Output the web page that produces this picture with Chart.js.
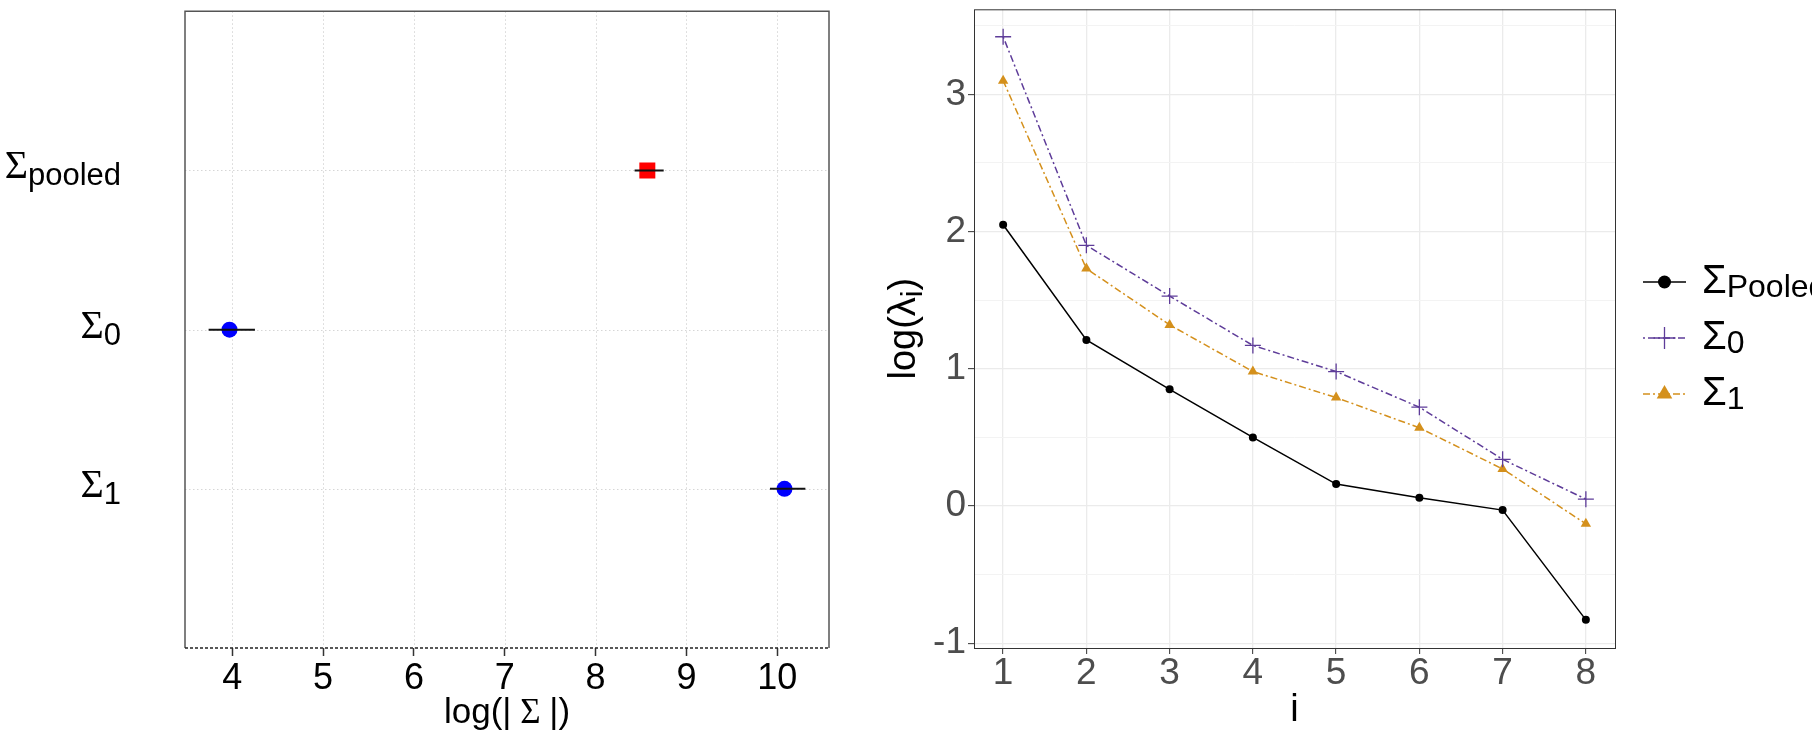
<!DOCTYPE html>
<html>
<head>
<meta charset="utf-8">
<script src="https://cdn.jsdelivr.net/npm/chart.js@4.4.0/dist/chart.umd.min.js"></script>
<style>
  body { margin: 0; background: #fff; }
  #wrap { position: relative; width: 1812px; height: 734px; overflow: hidden; }
  canvas { position: absolute; top: 0; }
</style>
</head>
<body>
<div id="wrap">
  <canvas id="detChart" width="906" height="734" style="left:0"></canvas>
  <canvas id="eigChart" width="952" height="734" style="left:860px"></canvas>
</div>
<script>
// left panel: log(|Sigma|) with intervals
const detSubs = ['pooled', '0', '1'];
const detRows = [3, 2, 1];
const detEst = [8.57, 3.97, 10.08];
const detLow = [8.43, 3.74, 9.92];
const detHigh = [8.75, 4.25, 10.31];
const detShape = ['rect', 'circle', 'circle'];
const detColor = ['#FF0000', '#0000FF', '#0000FF'];
const detXTicks = [4, 5, 6, 7, 8, 9, 10];

// right panel: log eigenvalues
const eigIndex = [1, 2, 3, 4, 5, 6, 7, 8];
const eigPooled = [2.05, 1.21, 0.85, 0.50, 0.16, 0.06, -0.03, -0.83];
const eigSigma0 = [3.42, 1.90, 1.53, 1.17, 0.98, 0.72, 0.34, 0.05];
const eigSigma1 = [3.10, 1.73, 1.32, 0.98, 0.79, 0.57, 0.27, -0.13];
const eigSubs = ['Pooled', '0', '1'];
const eigYTicks = [-1, -0.5, 0, 0.5, 1, 1.5, 2, 2.5, 3, 3.5];

const SANS = "'Liberation Sans', Arial, sans-serif";
const SERIF = "'Liberation Serif', 'Times New Roman', serif";

// draws main text followed by a lowered subscript
function subText(ctx, x, y, main, sub, mainFont, subFont, drop, align) {
  ctx.font = mainFont;
  const w1 = ctx.measureText(main).width;
  ctx.font = subFont;
  const w2 = ctx.measureText(sub).width;
  const x0 = align === 'right' ? x - w1 - w2 : x;
  ctx.textAlign = 'left';
  ctx.textBaseline = 'alphabetic';
  ctx.font = mainFont;
  ctx.fillText(main, x0, y);
  ctx.font = subFont;
  ctx.fillText(sub, x0 + w1, y + drop);
}

// ---------- left chart ----------
const barSets = detRows.map((row, i) => ({
  data: [{x: detLow[i], y: row}, {x: detHigh[i], y: row}],
  showLine: true,
  borderColor: '#111',
  borderWidth: 2,
  pointRadius: 0
}));

const detPlugin = {
  id: 'detExtras',
  beforeDatasetsDraw(chart) {
    const {ctx, chartArea: a, scales: {x, y}} = chart;
    ctx.save();
    ctx.strokeStyle = '#D6D6D6';
    ctx.lineWidth = 1;
    ctx.setLineDash([1.5, 2.5]);
    detXTicks.forEach(v => {
      const px = Math.round(x.getPixelForValue(v)) + 0.5;
      ctx.beginPath(); ctx.moveTo(px, a.top); ctx.lineTo(px, a.bottom); ctx.stroke();
    });
    detRows.forEach(v => {
      const py = Math.round(y.getPixelForValue(v)) + 0.5;
      ctx.beginPath(); ctx.moveTo(a.left, py); ctx.lineTo(a.right, py); ctx.stroke();
    });
    ctx.restore();
  },
  afterDraw(chart) {
    const {ctx, chartArea: a, scales: {y}} = chart;
    ctx.save();
    // panel frame
    ctx.strokeStyle = '#555';
    ctx.lineWidth = 1.5;
    ctx.beginPath();
    ctx.moveTo(a.left, a.bottom); ctx.lineTo(a.left, a.top);
    ctx.lineTo(a.right, a.top); ctx.lineTo(a.right, a.bottom);
    ctx.stroke();
    ctx.strokeStyle = '#222';
    ctx.setLineDash([3, 2]);
    ctx.beginPath(); ctx.moveTo(a.left, a.bottom); ctx.lineTo(a.right, a.bottom); ctx.stroke();
    ctx.setLineDash([]);
    // row labels
    ctx.fillStyle = '#000';
    detRows.forEach((row, i) => {
      const py = y.getPixelForValue(row);
      subText(ctx, 121, py + 8, '\u03A3', detSubs[i], '40px ' + SERIF, '31px ' + SANS, 7, 'right');
    });
    // x title
    const parts = [['log(|', '35px ' + SANS], [' \u03A3 ', '35px ' + SERIF], ['|)', '35px ' + SANS]];
    let total = 0;
    parts.forEach(p => { ctx.font = p[1]; total += ctx.measureText(p[0]).width; });
    let cx = (a.left + a.right) / 2 - total / 2;
    ctx.textAlign = 'left';
    ctx.textBaseline = 'alphabetic';
    parts.forEach(p => { ctx.font = p[1]; ctx.fillText(p[0], cx, 723); cx += ctx.measureText(p[0]).width; });
    ctx.restore();
  }
};

new Chart(document.getElementById('detChart'), {
  type: 'scatter',
  data: {
    datasets: [
      ...barSets,
      {
        data: detRows.map((row, i) => ({x: detEst[i], y: row})),
        pointStyle: detShape,
        pointRadius: detShape.map(s => s === 'rect' ? 11.3 : 8),
        pointBackgroundColor: detColor,
        pointBorderColor: detColor,
        pointBorderWidth: 0
      }
    ]
  },
  options: {
    responsive: false,
    animation: false,
    layout: {padding: {left: 0, top: 4, right: 77, bottom: 0}},
    plugins: {legend: {display: false}, tooltip: {enabled: false}},
    scales: {
      x: {
        type: 'linear', min: 3.48, max: 10.57,
        afterBuildTicks: s => { s.ticks = detXTicks.map(v => ({value: v})); },
        afterFit: s => { s.height = 86; s.paddingLeft = 0; s.paddingRight = 0; },
        border: {display: false},
        grid: {drawOnChartArea: false, drawTicks: true, tickLength: 8, tickColor: '#333', tickWidth: 1.5},
        ticks: {autoSkip: false, maxRotation: 0, padding: 5, color: '#000', font: {family: SANS, size: 36, lineHeight: 1}}
      },
      y: {
        type: 'linear', min: 0, max: 4,
        afterFit: s => { s.width = 185; s.paddingTop = 0; s.paddingBottom = 0; },
        border: {display: false},
        grid: {display: false},
        ticks: {display: false}
      }
    }
  },
  plugins: [detPlugin]
});

// ---------- right chart ----------
const legendRadius = [6.5, 11, 9];

const eigPlugin = {
  id: 'eigExtras',
  afterDraw(chart) {
    const {ctx, chartArea: a} = chart;
    ctx.save();
    ctx.strokeStyle = '#333';
    ctx.lineWidth = 1;
    ctx.strokeRect(a.left + 0.5, a.top + 0.5, a.right - a.left, a.bottom - a.top);
    // y title
    ctx.fillStyle = '#000';
    ctx.translate(a.left - 59, (a.top + a.bottom) / 2);
    ctx.rotate(-Math.PI / 2);
    ctx.font = '38px ' + SANS;
    const w1 = ctx.measureText('log(\u03BB').width;
    const w3 = ctx.measureText(')').width;
    ctx.font = '30px ' + SANS;
    const w2 = ctx.measureText('i').width;
    const x0 = -(w1 + w2 + w3) / 2;
    ctx.textAlign = 'left';
    ctx.textBaseline = 'alphabetic';
    ctx.font = '38px ' + SANS;
    ctx.fillText('log(\u03BB', x0, 0);
    ctx.fillText(')', x0 + w1 + w2, 0);
    ctx.font = '30px ' + SANS;
    ctx.fillText('i', x0 + w1, 7);
    ctx.restore();

    // x title
    ctx.save();
    ctx.fillStyle = '#000';
    ctx.font = '38px ' + SANS;
    ctx.textAlign = 'center';
    ctx.textBaseline = 'alphabetic';
    ctx.fillText('i', (a.left + a.right) / 2, 721);
    ctx.restore();

    // legend
    const lx = a.right + 28;
    const rows = [282, 338, 394];
    chart.data.datasets.forEach((ds, i) => {
      const ry = rows[i];
      ctx.save();
      ctx.strokeStyle = ds.borderColor;
      ctx.lineWidth = ds.borderWidth;
      ctx.setLineDash(ds.borderDash || []);
      ctx.beginPath(); ctx.moveTo(lx, ry); ctx.lineTo(lx + 43, ry); ctx.stroke();
      ctx.setLineDash([]);
      ctx.fillStyle = ds.pointBackgroundColor;
      ctx.strokeStyle = ds.borderColor;
      ctx.lineWidth = ds.pointBorderWidth;
      Chart.helpers.drawPoint(ctx, {pointStyle: ds.pointStyle, radius: legendRadius[i], rotation: 0, borderWidth: ds.pointBorderWidth}, lx + 21.5, ry);
      ctx.fillStyle = '#000';
      subText(ctx, lx + 59, ry + 11, '\u03A3', eigSubs[i], '40px ' + SANS, '32px ' + SANS, 4, 'left');
      ctx.restore();
    });
  }
};

const toXY = vals => eigIndex.map((x, i) => ({x, y: vals[i]}));

new Chart(document.getElementById('eigChart'), {
  type: 'scatter',
  data: {
    datasets: [
      {
        data: toXY(eigPooled), showLine: true,
        borderColor: '#000', borderWidth: 1.5, borderDash: [],
        pointStyle: 'circle', pointRadius: 4,
        pointBackgroundColor: '#000', pointBorderWidth: 0
      },
      {
        data: toXY(eigSigma0), showLine: true,
        borderColor: '#5E3C99', borderWidth: 1.5, borderDash: [2, 3, 7, 3],
        pointStyle: 'cross', pointRadius: 8,
        pointBackgroundColor: '#5E3C99', pointBorderColor: '#5E3C99', pointBorderWidth: 1.3
      },
      {
        data: toXY(eigSigma1), showLine: true,
        borderColor: '#D4901C', borderWidth: 1.5, borderDash: [7, 3, 2, 3],
        pointStyle: 'triangle', pointRadius: 6,
        pointBackgroundColor: '#D4901C', pointBorderColor: '#D4901C', pointBorderWidth: 0
      }
    ]
  },
  options: {
    responsive: false,
    animation: false,
    layout: {padding: {left: 0, top: 7, right: 197, bottom: 0}},
    plugins: {legend: {display: false}, tooltip: {enabled: false}},
    scales: {
      x: {
        type: 'linear', min: 0.65, max: 8.35,
        afterBuildTicks: s => { s.ticks = eigIndex.map(v => ({value: v})); },
        afterFit: s => { s.height = 86; s.paddingLeft = 0; s.paddingRight = 0; },
        border: {display: false},
        grid: {color: '#EBEBEB', lineWidth: 1.3, tickLength: 6, tickColor: '#333', tickWidth: 1},
        ticks: {autoSkip: false, maxRotation: 0, padding: 1, color: '#4D4D4D', font: {family: SANS, size: 37, lineHeight: 1}}
      },
      y: {
        type: 'linear', min: -1.035, max: 3.62,
        afterBuildTicks: s => { s.ticks = eigYTicks.map(v => ({value: v})); },
        afterFit: s => { s.width = 114; s.paddingTop = 0; s.paddingBottom = 0; },
        border: {display: false},
        grid: {
          color: c => Number.isInteger(c.tick.value) ? '#EBEBEB' : '#F3F3F3',
          lineWidth: c => Number.isInteger(c.tick.value) ? 1.3 : 1,
          tickLength: 6,
          tickColor: c => Number.isInteger(c.tick.value) ? '#333' : 'rgba(0,0,0,0)',
          tickWidth: 1
        },
        ticks: {
          autoSkip: false, padding: 2, color: '#4D4D4D',
          font: {family: SANS, size: 37, lineHeight: 1},
          callback: v => Number.isInteger(v) ? String(v) : ''
        }
      }
    }
  },
  plugins: [eigPlugin]
});
</script>
</body>
</html>
